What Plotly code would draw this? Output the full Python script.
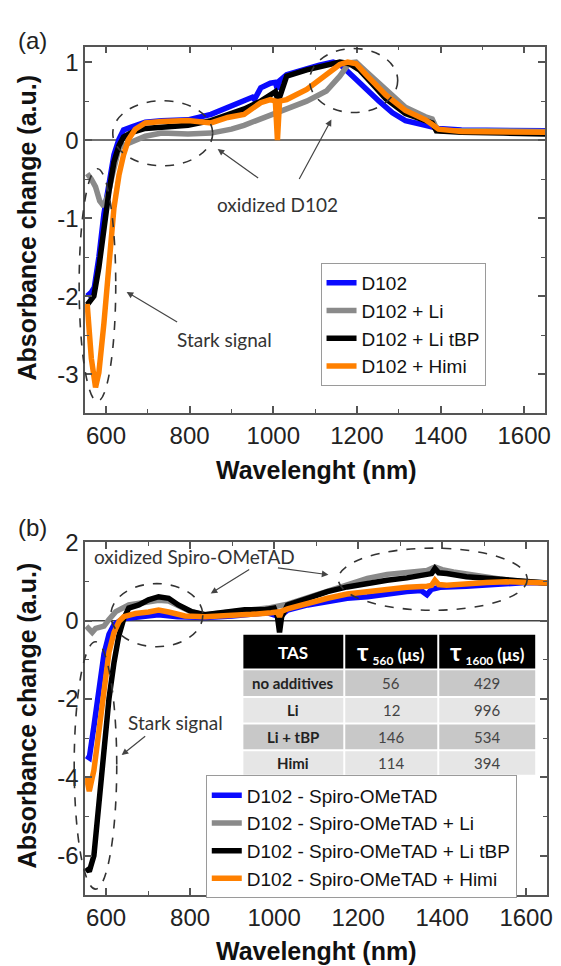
import plotly.graph_objects as go

W, H = 561, 966


def px(x):
    return x / W


def py(y):
    return 1 - y / H


# ---------------- Panel (a) data ----------------
a_blue_wl = [555, 565, 572, 583, 595, 607, 619, 631, 642, 662, 694, 733, 796, 851, 891, 930, 950, 955,
             960, 970, 993, 1005, 1010, 1015, 1032, 1080, 1110, 1143, 1160, 1190, 1222, 1253, 1285, 1316,
             1364, 1395, 1450, 1550, 1650]
a_blue_val = [-2.0, -1.95, -1.89, -1.5, -0.95, -0.57, -0.19, 0.01, 0.13, 0.17, 0.23, 0.25, 0.26, 0.33,
              0.42, 0.51, 0.55, 0.52, 0.58, 0.67, 0.73, 0.74, 0.65, 0.76, 0.84, 0.92, 0.96, 1.0, 0.97,
              0.82, 0.65, 0.5, 0.35, 0.25, 0.19, 0.15, 0.13, 0.13, 0.12]

a_gray_wl = [555, 565, 575, 585, 595, 605, 615, 631, 650, 670, 694, 733, 796, 851, 900, 930, 960, 993,
             1032, 1080, 1127, 1159, 1182, 1198, 1222, 1269, 1316, 1364, 1380, 1392, 1400, 1500, 1650]
a_gray_val = [-0.43, -0.5, -0.6, -0.78, -0.85, -0.7, -0.45, -0.1, -0.05, 0.0, 0.05, 0.09, 0.08, 0.09,
              0.14, 0.19, 0.25, 0.33, 0.4, 0.5, 0.63, 0.82, 0.99, 1.0, 0.88, 0.65, 0.42, 0.3, 0.27,
              0.13, 0.12, 0.12, 0.11]

a_black_wl = [555, 571, 583, 595, 607, 619, 631, 642, 662, 694, 733, 796, 851, 891, 931, 970, 993, 1005,
              1012, 1020, 1032, 1080, 1127, 1159, 1182, 1206, 1237, 1269, 1316, 1364, 1380, 1390, 1450,
              1550, 1650]
a_black_val = [-2.11, -2.0, -1.63, -1.12, -0.66, -0.28, -0.07, 0.04, 0.10, 0.15, 0.16, 0.19, 0.25, 0.32,
               0.40, 0.5, 0.57, 0.62, 0.5, 0.65, 0.82, 0.9, 0.97, 1.0, 0.98, 0.9, 0.72, 0.53, 0.34,
               0.26, 0.22, 0.12, 0.1, 0.09, 0.08]

a_orange_wl = [555, 565, 575, 583, 595, 607, 619, 631, 642, 654, 670, 694, 733, 796, 851, 891, 930, 970,
               993, 1005, 1010, 1015, 1032, 1080, 1127, 1159, 1178, 1198, 1222, 1269, 1316, 1364, 1380,
               1395, 1450, 1550, 1650]
a_orange_val = [-2.1, -2.8, -3.17, -2.98, -2.35, -1.58, -0.87, -0.45, -0.19, 0.01, 0.14, 0.22, 0.24,
                0.25, 0.22, 0.29, 0.33, 0.48, 0.52, 0.5, 0.0, 0.5, 0.52, 0.65, 0.84, 0.97, 1.0, 0.98,
                0.84, 0.58, 0.38, 0.26, 0.2, 0.14, 0.11, 0.1, 0.1]

# ---------------- Panel (b) data ----------------
b_blue_wl = [553, 560, 571, 583, 595, 607, 619, 640, 694, 725, 770, 836, 900, 985, 1013, 1032, 1080,
             1127, 1174, 1222, 1269, 1316, 1350, 1364, 1375, 1395, 1458, 1537, 1600, 1650]
b_blue_val = [-3.45, -3.5, -2.7, -1.7, -0.85, -0.35, -0.1, 0.05, 0.12, 0.15, 0.1, 0.08, 0.12, 0.2, 0.1,
              0.27, 0.4, 0.5, 0.57, 0.61, 0.69, 0.74, 0.77, 0.66, 0.8, 0.85, 0.88, 0.93, 0.97, 0.96]

b_gray_wl = [553, 560, 567, 575, 583, 595, 607, 623, 654, 694, 725, 749, 772, 804, 835, 867, 930, 985,
             1032, 1080, 1127, 1174, 1222, 1269, 1316, 1364, 1383, 1400, 1427, 1474, 1537, 1600, 1650]
b_gray_val = [-0.14, -0.25, -0.3, -0.2, -0.18, -0.14, 0.03, 0.23, 0.4, 0.48, 0.52, 0.5, 0.38, 0.22,
              0.15, 0.19, 0.28, 0.32, 0.42, 0.58, 0.74, 0.9, 1.08, 1.18, 1.24, 1.28, 1.37, 1.3, 1.24,
              1.16, 1.06, 0.99, 0.96]

b_black_wl = [553, 560, 571, 583, 595, 607, 619, 630, 642, 654, 678, 701, 725, 749, 772, 804, 835, 867,
              930, 978, 1000, 1008, 1013, 1018, 1032, 1080, 1127, 1174, 1222, 1269, 1316, 1364, 1375,
              1383, 1392, 1411, 1458, 1506, 1553, 1600, 1650]
b_black_val = [-6.3, -6.4, -6.0, -4.67, -3.32, -1.98, -1.06, -0.4, 0.05, 0.32, 0.4, 0.53, 0.61, 0.57,
               0.4, 0.23, 0.15, 0.19, 0.28, 0.28, 0.32, 0.1, -0.3, 0.1, 0.4, 0.57, 0.74, 0.86, 0.95,
               1.03, 1.09, 1.16, 1.2, 1.33, 1.22, 1.2, 1.12, 1.08, 1.03, 0.98, 0.96]

b_orange_wl = [553, 560, 571, 583, 595, 607, 619, 631, 642, 670, 701, 725, 749, 788, 836, 891, 946, 993,
               1008, 1013, 1018, 1032, 1080, 1127, 1174, 1222, 1269, 1316, 1364, 1375, 1383, 1392, 1411,
               1458, 1506, 1553, 1600, 1650]
b_orange_val = [-4.0, -4.35, -3.82, -2.74, -1.65, -0.8, -0.3, -0.02, 0.1, 0.18, 0.22, 0.27, 0.22, 0.12,
                0.1, 0.12, 0.16, 0.2, 0.22, 0.1, 0.24, 0.3, 0.45, 0.57, 0.68, 0.74, 0.8, 0.85, 0.88,
                0.9, 1.03, 0.92, 0.9, 0.95, 0.97, 0.99, 0.99, 0.96]

# ---------------- labels / ticks ----------------
a_names = ["D102", "D102 + Li", "D102 + Li tBP", "D102 + Himi"]
b_names = ["D102 - Spiro-OMeTAD", "D102 - Spiro-OMeTAD + Li", "D102 - Spiro-OMeTAD + Li tBP",
           "D102 - Spiro-OMeTAD + Himi"]
colors = ["#0a0aff", "#8a8a8a", "#000000", "#ff8000"]

x_tickvals = [600, 800, 1000, 1200, 1400, 1600]
x_ticktext = ["600", "800", "1000", "1200", "1400", "1600"]
a_y_tickvals = [-3, -2, -1, 0, 1]
a_y_ticktext = ["-3", "-2", "-1", "0", "1"]
b_y_tickvals = [-6, -4, -2, 0, 2]
b_y_ticktext = ["-6", "-4", "-2", "0", "2"]

table_header = ["TAS", "560", "1600"]
table_tas = ["no additives", "Li", "Li + tBP", "Himi"]
table_tau560 = [56, 12, 146, 114]
table_tau1600 = [429, 996, 534, 394]

# ---------------- figure ----------------
fig = go.Figure()

a_sets = [(a_blue_wl, a_blue_val), (a_gray_wl, a_gray_val), (a_black_wl, a_black_val),
          (a_orange_wl, a_orange_val)]
b_sets = [(b_blue_wl, b_blue_val), (b_gray_wl, b_gray_val), (b_black_wl, b_black_val),
          (b_orange_wl, b_orange_val)]

for (wl, val), name, c in zip(a_sets, a_names, colors):
    fig.add_trace(go.Scatter(x=wl, y=val, mode="lines", name=name, line=dict(color=c, width=5.5),
                             xaxis="x", yaxis="y", legend="legend"))
for (wl, val), name, c in zip(b_sets, b_names, colors):
    fig.add_trace(go.Scatter(x=wl, y=val, mode="lines", name=name, line=dict(color=c, width=5.5),
                             xaxis="x2", yaxis="y2", legend="legend2"))

font_ax = dict(family="Liberation Sans, Arial", size=24, color="#222222")
axis_common = dict(showline=True, linecolor="#555555", linewidth=1.5, mirror="ticks", ticks="inside",
                   ticklen=7, tickwidth=1.5, tickcolor="#555555", showgrid=False, tickfont=font_ax,
                   zeroline=False)

leg_font = dict(family="Liberation Sans, Arial", size=19, color="#111111")
fig.update_layout(
    width=W, height=H, autosize=False,
    margin=dict(l=0, r=0, t=0, b=0),
    paper_bgcolor="white", plot_bgcolor="white",
    showlegend=True,
    xaxis=dict(domain=[px(86), px(551)], range=[550, 1650], anchor="y", tickvals=x_tickvals,
               ticktext=x_ticktext, minor=dict(ticks="inside", ticklen=4, tickwidth=1.2,
                                               tickcolor="#555555", dtick=100, tick0=0),
               **axis_common),
    yaxis=dict(domain=[py(405), py(33)], range=[-3.5, 1.2], anchor="x", tickvals=a_y_tickvals,
               ticktext=a_y_ticktext, minor=dict(ticks="inside", ticklen=4, tickwidth=1.2,
                                                 tickcolor="#555555", dtick=0.5, tick0=0),
               **axis_common),
    xaxis2=dict(domain=[px(86), px(553)], range=[550, 1650], anchor="y2", tickvals=x_tickvals,
                ticktext=x_ticktext, minor=dict(ticks="inside", ticklen=4, tickwidth=1.2,
                                                tickcolor="#555555", dtick=100, tick0=0),
                **axis_common),
    yaxis2=dict(domain=[py(894), py(536)], range=[-7, 2], anchor="x2", tickvals=b_y_tickvals,
                ticktext=b_y_ticktext, minor=dict(ticks="inside", ticklen=4, tickwidth=1.2,
                                                  tickcolor="#555555", dtick=1, tick0=0),
                **axis_common),
    legend=dict(x=px(324), y=py(315), xanchor="left", yanchor="middle", bgcolor="white",
                bordercolor="#9a9a9a", borderwidth=1, tracegroupgap=0, font=leg_font),
    legend2=dict(x=px(208), y=py(835), xanchor="left", yanchor="middle", bgcolor="white",
                 bordercolor="#9a9a9a", borderwidth=1, tracegroupgap=0, font=leg_font),
)

# zero lines
for xr, yr in [("x", "y"), ("x2", "y2")]:
    fig.add_shape(type="line", xref=xr + " domain", yref=yr, x0=0, x1=1, y0=0, y1=0,
                  line=dict(color="#444444", width=1.5), layer="below")

# ---------------- TAS table (drawn over panel b) ----------------
col_edges = [245, 348, 443, 542]
row_edges = [630, 665, 693, 720, 747, 773]
row_fill = ["#c8c8c8", "#e6e6e6", "#c8c8c8", "#e6e6e6"]
fig.add_shape(type="rect", xref="paper", yref="paper", x0=px(col_edges[0]), x1=px(col_edges[-1]),
              y0=py(row_edges[-1]), y1=py(row_edges[0]), fillcolor="white", line_width=0, layer="above")
for ci in range(3):
    cx0, cx1 = col_edges[ci] + 1, col_edges[ci + 1] - 1
    for ri in range(5):
        ry0, ry1 = row_edges[ri] + (0 if ri == 0 else 1), row_edges[ri + 1] - 1
        fill = "black" if ri == 0 else row_fill[ri - 1]
        fig.add_shape(type="rect", xref="paper", yref="paper", x0=px(cx0), x1=px(cx1), y0=py(ry1),
                      y1=py(ry0), fillcolor=fill, line_width=0, layer="above")

hdr_font = dict(family="Lato", size=17, color="white")
for ci, h in enumerate(table_header):
    if ci == 0:
        txt = "<b>%s</b>" % h
    else:
        txt = '<b><span style="font-size:24px">τ</span> <sub>%s</sub> (μs)</b>' % h
    fig.add_annotation(x=px((col_edges[ci] + col_edges[ci + 1]) / 2), y=py((row_edges[0] + row_edges[1]) / 2),
                       xref="paper", yref="paper", text=txt, showarrow=False, font=hdr_font,
                       xanchor="center", yanchor="middle")
for ri in range(4):
    yc = py((row_edges[ri + 1] + row_edges[ri + 2]) / 2)
    vals = ["<b>%s</b>" % table_tas[ri], str(table_tau560[ri]), str(table_tau1600[ri])]
    for ci, v in enumerate(vals):
        fig.add_annotation(x=px((col_edges[ci] + col_edges[ci + 1]) / 2), y=yc, xref="paper",
                           yref="paper", text=v, showarrow=False,
                           font=dict(family="Lato", size=15, color="#222222" if ci == 0 else "#444444"),
                           xanchor="center", yanchor="middle")

# dashed ellipses (pixel boxes)
ellipses = [(114, 88, 215, 154), (313, 35, 402, 100), (80, 157, 117, 393),
            (112, 578, 205, 642), (342, 542, 533, 605), (75, 637, 118, 888)]
for x0, y0, x1, y1 in ellipses:
    fig.add_shape(type="circle", xref="paper", yref="paper", x0=px(x0), x1=px(x1), y0=py(y1),
                  y1=py(y0), line=dict(color="#333333", width=1.6, dash="dash"), layer="above")

# arrows (tail -> head, pixel)
arrows = [((262, 167), (220, 137)), ((302, 168), (335, 107)), ((180, 313), (128, 282)),
          ((253, 563), (213, 588)), ((280, 562), (332, 569)), ((148, 732), (123, 752))]
for (tx, ty), (hx, hy) in arrows:
    fig.add_annotation(x=px(hx), y=py(hy), xref="paper", yref="paper", ax=tx - hx, ay=ty - hy,
                       axref="pixel", ayref="pixel", text="", showarrow=True, arrowhead=2,
                       arrowsize=1.1, arrowwidth=1.2, arrowcolor="#444444")

ann_font = dict(family="Lato", size=19, color="#333333")
texts = [("oxidized D102", 280, 193), ("Stark signal", 227, 330),
         ("oxidized Spiro-OMeTAD", 197, 550), ("Stark signal", 177, 719)]
for t, x, y in texts:
    fig.add_annotation(x=px(x), y=py(y), xref="paper", yref="paper", text=t, showarrow=False,
                       font=ann_font, xanchor="center", yanchor="middle")

# axis titles and panel labels
title_font = dict(family="Liberation Sans, Arial", size=25, color="#111111", weight="bold")
fig.add_annotation(x=px(27), y=py(217), xref="paper", yref="paper", text="Absorbance change (a.u.)",
                   textangle=-90, showarrow=False, font=title_font, xanchor="center", yanchor="middle")
fig.add_annotation(x=px(27), y=py(712), xref="paper", yref="paper", text="Absorbance change (a.u.)",
                   textangle=-90, showarrow=False, font=title_font, xanchor="center", yanchor="middle")
fig.add_annotation(x=px(319), y=py(463), xref="paper", yref="paper", text="Wavelenght (nm)",
                   showarrow=False, font=title_font, xanchor="center", yanchor="middle")
fig.add_annotation(x=px(319), y=py(951), xref="paper", yref="paper", text="Wavelenght (nm)",
                   showarrow=False, font=title_font, xanchor="center", yanchor="middle")
lab_font = dict(family="Liberation Sans, Arial", size=24, color="#222222")
fig.add_annotation(x=px(33), y=py(27), xref="paper", yref="paper", text="(a)", showarrow=False,
                   font=lab_font, xanchor="center", yanchor="middle")
fig.add_annotation(x=px(33), y=py(521), xref="paper", yref="paper", text="(b)", showarrow=False,
                   font=lab_font, xanchor="center", yanchor="middle")

fig.write_html("out.html", config={"displayModeBar": False},
               post_script="document.body.style.margin='0';")
